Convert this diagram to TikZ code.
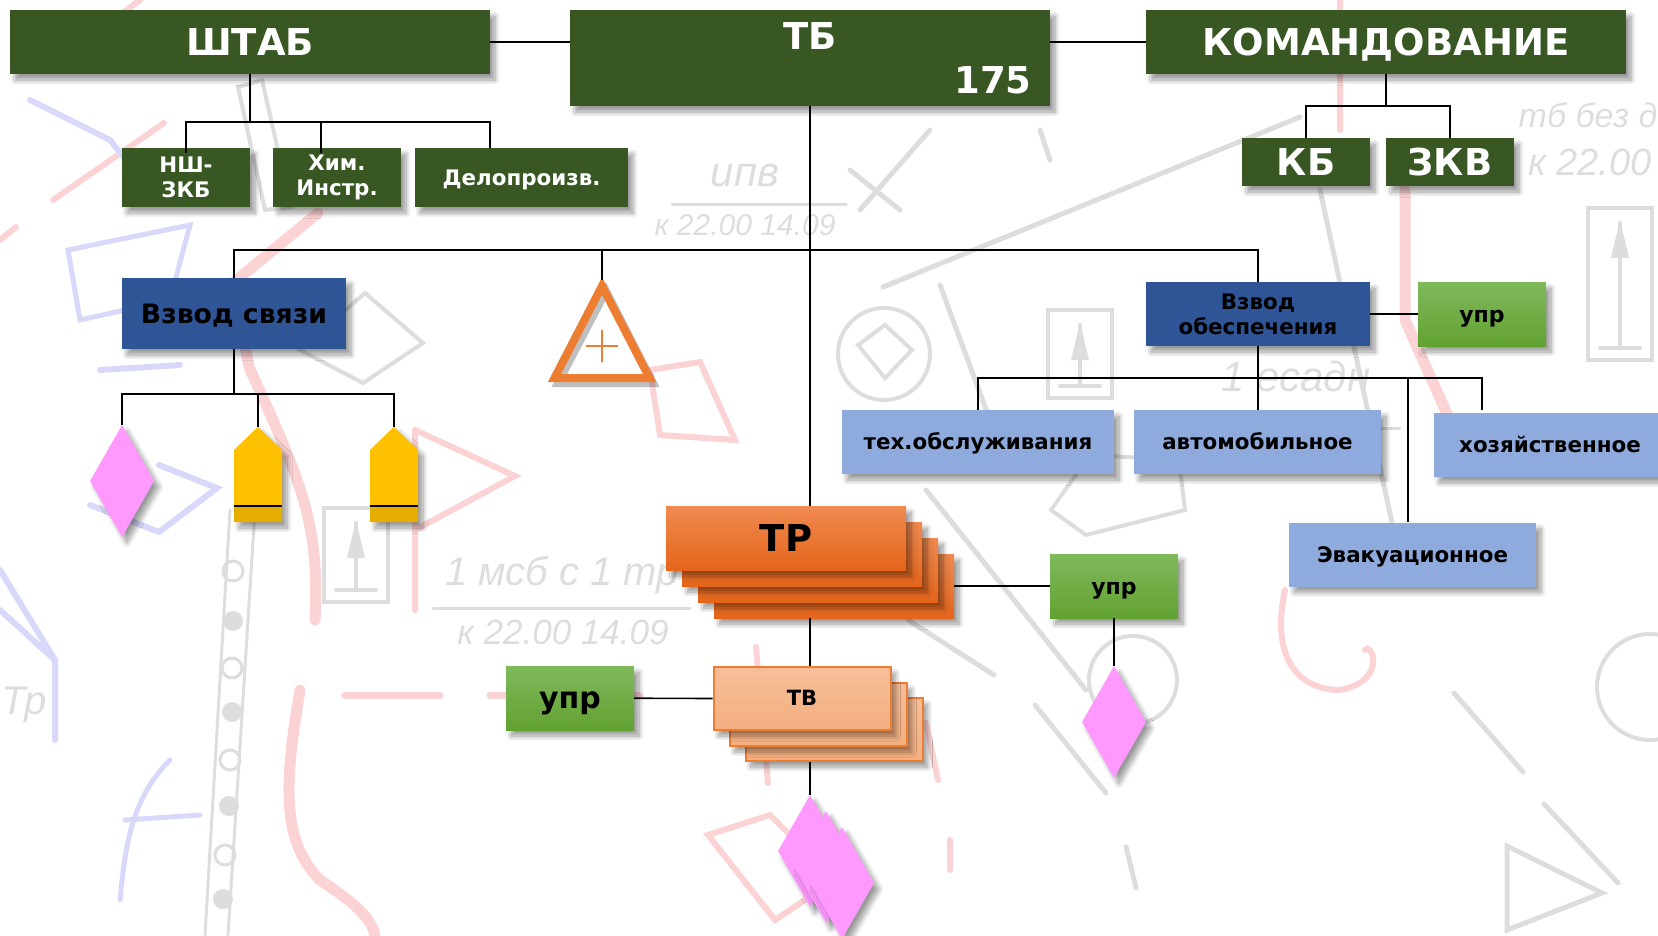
\documentclass[tikz,border=0pt]{standalone}
\usepackage{fontspec}
\setmainfont{DejaVu Sans}
\newfontfamily\mapfont{Liberation Sans}
\usetikzlibrary{calc,shapes.geometric,shapes.symbols,shadows.blur}
\definecolor{staffgreen}{HTML}{385723}
\definecolor{platoonblue}{HTML}{2F5597}
\definecolor{servblue}{HTML}{8FAADC}
\definecolor{ctrltop}{HTML}{80B85C}
\definecolor{ctrlmid}{HTML}{70AF42}
\definecolor{ctrlbot}{HTML}{62A232}
\definecolor{trtop}{HTML}{F08A50}
\definecolor{trmid}{HTML}{F47A26}
\definecolor{trbot}{HTML}{E4651A}
\definecolor{tankorange}{HTML}{ED7D31}
\definecolor{markpink}{HTML}{FF99FF}
\definecolor{markyellow}{HTML}{FFC000}
\definecolor{mapgrey}{HTML}{DDDDDD}
\definecolor{mapred}{HTML}{FCD3D5}
\definecolor{mapblue}{HTML}{D8D8FA}
\tikzset{
	softshadow/.style={blur shadow={shadow xshift=5pt, shadow yshift=-6pt, shadow blur steps=10, shadow blur radius=5pt, shadow opacity=40}},
	size/.style 2 args={minimum width=#1, minimum height=#2, inner sep=0pt, align=center},
	txt/.style={font=\bfseries\fontsize{#1}{#1}\selectfont, text height=0.73*#1 pt, text depth=0pt},
	staff/.style={fill=staffgreen, text=white, softshadow},
	platoon/.style={fill=platoonblue, text=black, softshadow},
	serv/.style={fill=servblue, text=black, size={#1}{64}, txt=21.4, softshadow},
	ctrl/.style={top color=ctrltop, middle color=ctrlmid, bottom color=ctrlbot, text=black, size={128}{64}, txt=#1, softshadow},
	tr/.style={top color=trtop, middle color=trmid, bottom color=trbot, size={240}{64}, softshadow},
	tv/.style={top color=tankorange!50!white, bottom color=tankorange!62!white, draw=tankorange, line width=2pt, size={177}{63}, softshadow},
	rhomb/.style={shape=diamond, fill=markpink, size={64}{112}, softshadow},
	bar/.style={line width=1.6pt, black},
	mapline/.style={line width=#1, mapgrey, line cap=round},
	mapredline/.style={line width=#1, mapred, line cap=round},
	mapblueline/.style={line width=#1, mapblue, line cap=round},
}
\begin{document}
\begin{tikzpicture}[x=1pt, y=-1pt]
\useasboundingbox (0,0) rectangle (1658,935);

% Map underneath
\foreach \t/\x/\y/\s in {ипв/745/176/42, к 22.00 14.09/745/225/30, 1 мсб с 1 тр/562/575/40, к 22.00 14.09/563/632/35, 1 есадн/1296/376/42, тб без д/1588/115/34, к 22.00/1590/162/38, Тр/24/705/40}
	\node[text=mapgrey, font=\mapfont\itshape\fontsize{\s}{\s}\selectfont] (map\x) at (\x,\y) {\t};
\draw[mapline=3pt] (433,608) -- (690,608) (672,204) -- (846,204) (1232,428) -- (1400,428);
\draw[mapline=5pt] (883,287) -- (1300,117) (940,285) -- (990,420) (1040,130) -- (1050,160) (1320,190) -- (1400,560);
\draw[mapline=4pt] (884,354) circle (46) (858,345) -- (885,325) -- (912,350) -- (885,378) -- cycle;
\draw[mapline=4pt] (1133,680) circle (44) (1650,687) circle (53);
\foreach \x/\y/\h in {1080/310/88, 1620/208/152, 356/508/94} {
	\draw[mapline=4pt] (\x-32,\y) rectangle (\x+32,\y+\h) (\x,\y+15) -- (\x,\y+\h-12) (\x-20,\y+\h-12) -- (\x+20,\y+\h-12);
	\fill[mapgrey] (\x,\y+12) -- (\x+9,\y+50) -- (\x-9,\y+50) -- cycle;
}
\draw[mapline=5pt] (926,490) -- (1086,690) (908,620) -- (994,675) (1035,705) -- (1106,793) (1126,847) -- (1136,888) (1454,693) -- (1523,772) (1544,804) -- (1618,883);
\draw[mapline=5pt] (1507,846) -- (1602,893) -- (1507,930) -- cycle (900,210) -- (850,170) (930,130) -- (860,210);
\draw[mapline=4pt] (1051,510) -- (1086,535) -- (1185,510) -- (1179,460) -- (1090,455) -- cycle (365,293) -- (423,343) -- (363,383) -- (300,350) -- cycle (238,87) -- (262,80) -- (291,207) -- (265,210) -- cycle;
\draw[mapline=3pt] (230,510) -- (205,935) (255,510) -- (228,935);
\foreach \x/\y in {233/571, 232/668, 230/760, 225/855}
	\draw[mapline=3pt] (\x,\y) circle (10);
\foreach \x/\y in {233/621, 232/712, 229/806, 223/899}
	\fill[mapgrey] (\x,\y) circle (10);
\draw[mapredline=11pt] (318,213) -- (233,283) -- (249,367) .. controls (300,480) and (320,520) .. (315,620);
\draw[mapredline=11pt] (300,690) .. controls (285,780) and (280,840) .. (320,880) .. controls (350,900) and (370,915) .. (375,935);
\draw[mapredline=7pt] (640,695) -- (590,695) (550,695) -- (490,695) (345,695) -- (440,695);
\draw[mapredline=6pt] (415,430) -- (515,476) -- (415,530) (415,430) -- (415,610);
\draw[mapredline=6pt] (650,370) -- (700,362) -- (735,440) -- (660,435) -- cycle (708,835) -- (770,815) -- (835,880) -- (775,920) -- cycle;
\draw[mapredline=11pt] (1405,190) -- (1405,320) -- (1470,465);
\draw[mapredline=6pt] (1340,0) -- (1340,130) (1285,590) .. controls (1270,660) and (1300,690) .. (1340,690) .. controls (1390,680) and (1370,640) .. (1365,650);
\draw[mapredline=6pt] (53,200) -- (164,123) (0,240) -- (16,227) (100,30) -- (140,0) (950,840) -- (950,870) (756,647) -- (768,783) (926,723) -- (938,780);
\draw[mapblueline=6pt] (30,100) -- (110,140) -- (150,190) (100,370) -- (180,365) (159,465) -- (217,488) -- (159,532) -- (90,505);
\draw[mapblueline=5pt] (68,250) -- (190,225) -- (170,300) -- (80,320) -- cycle;
\draw[mapblueline=6pt] (0,570) -- (55,660) -- (55,740) (0,610) -- (55,660);
\draw[mapblueline=5pt] (170,760) .. controls (130,800) and (125,850) .. (120,900) (125,820) -- (200,815);

% Staff row
\node[staff, size={480}{64}, txt=37] (shtab) at (250,42) {ШТАБ};
\node[staff, size={480}{96}] (tb) at (810,58) {};
\node[text=white, txt=37] (tbname) at (810,36) {ТБ};
\node[text=white, txt=37] (tbnum) at (993,80) {175};
\node[staff, size={480}{64}, txt=37] (kom) at (1386,42) {КОМАНДОВАНИЕ};

% Staff officers
\node[staff, size={128}{59}, font=\bfseries\fontsize{21.4}{25}\selectfont] (nsh) at (186,177.5) {\vspace*{4pt}НШ-\\ЗКБ};
\node[staff, size={128}{59}, font=\bfseries\fontsize{21.4}{25}\selectfont] (him) at (337,177.5) {\vspace*{4pt}Хим.\\Инстр.};
\node[staff, size={213}{59}, txt=21.4] (delo) at (521.5,177.5) {Делопроизв.};
\node[staff, size={128}{48}, txt=37] (kb) at (1306,162) {КБ};
\node[staff, size={128}{48}, txt=37] (zkv) at (1450,162) {ЗКВ};

% Platoons
\node[platoon, size={224}{71}, txt=26.7] (svyaz) at (234,313.5) {Взвод связи};
\node[platoon, size={224}{64}, font=\bfseries\fontsize{21.4}{25}\selectfont] (obesp) at (1258,314) {Взвод\\обеспечения};
\node[ctrl=22] (obespupr) at (1482,314) {упр};

% Service branches
\node[serv=272] (tech) at (978,442) {тех.обслуживания};
\node[serv=247] (auto) at (1257.5,442) {автомобильное};
\node[serv=232] (hoz) at (1550,445) {хозяйственное};
\node[serv=247] (evak) at (1412.5,554.5) {Эвакуационное};

% Signal platoon marks
\node[rhomb] (svyazmark) at (122,481) {};
\foreach \n/\x in {sigA/258, sigB/394} {
	\node[shape=signal, signal to=north, signal pointer angle=92, fill=markyellow, size={48}{72}, softshadow] (\n) at (\x,486) {};
	\fill[markyellow!90!black] (\x-24,506) rectangle (\x+24,522);
	\draw[bar] (\x-24,506) -- (\x+24,506);
}

% Triangle mark
\coordinate (triapex) at (602,280);
\draw[line width=8pt, black, opacity=0.25] (606,291) -- (653,383) -- (558,383) -- cycle;
\draw[line width=8pt, tankorange] (602,286) -- (649.5,378) -- (554.5,378) -- cycle;
\draw[line width=1.6pt, tankorange] (586,346) -- (618,346) (602,330) -- (602,362);

% Tank company stack
\foreach \i/\x/\y in {4/834/586, 3/818/570, 2/802/554, 1/786/538}
	\node[tr] (tr\i) at (\x,\y) {};
\node[txt=37] (trname) at (786,538) {ТР};
\node[ctrl=22] (trupr) at (1114,586) {упр};
\node[rhomb] (trmark) at (1114,722) {};

% Tank platoon stack
\foreach \i/\x/\y in {3/834/729.5, 2/818/714.5, 1/802/698.5}
	\node[tv] (tv\i) at (\x,\y) {};
\node[txt=21] (tvname) at (802,698) {ТВ};
\node[ctrl=30] (tvupr) at (570,698) {упр};
\foreach \i/\x/\y in {1/810/851, 2/826/867, 3/842/883}
	\node[rhomb] (tvmark\i) at (\x,\y) {};

% Connections of the top row
\draw[bar] (shtab) -- (shtab -| tb.west);
\draw[bar] (tb.east |- kom) -- (kom);
\coordinate (shtabbus) at (250,122);
\coordinate (komsbus) at (1386,106);
\coordinate (himtop) at (321,153);
\draw[bar] (shtab.south) -- (shtabbus);
\draw[bar] (shtabbus) -| (186,153);
\draw[bar] (shtabbus) -| (himtop);
\draw[bar] (shtabbus) -| (490,148);
\draw[bar] (kom.south) -- (komsbus);
\draw[bar] (komsbus) -| (kb.north);
\draw[bar] (komsbus) -| (zkv.north);

% Connections of the main line
\coordinate (mainbus) at (810,250);
\draw[bar] (tb.south) -- (tb.south |- tr1.north);
\draw[bar] (mainbus) -| (svyaz.north);
\draw[bar] (mainbus) -| (obesp.north);
\draw[bar] (mainbus -| triapex) -- (triapex);
\draw[bar] (tb.south |- tr4.south) -- (tb.south |- tv1.north);
\draw[bar] (tb.south |- tv3.south) -- (tvmark1.north);
\draw[bar] (tr4) -- (trupr);
\draw[bar] (trupr) -- (trmark.north);
\draw[bar] (tvupr) -- (tv1.west);

% Connections of the signal platoon
\coordinate (svyazbus) at (234,394);
\draw[bar] (svyaz.south) -- (svyazbus);
\draw[bar] (svyazbus) -| (svyazmark.north);
\draw[bar] (svyazbus) -| (sigA.north);
\draw[bar] (svyazbus) -| (sigB.north);

% Connections of the support platoon
\coordinate (obespbus) at (1258,378);
\draw[bar] (obesp) -- (obespupr);
\draw[bar] (obesp.south) -- (obespbus);
\draw[bar] (obespbus) -| (tech.north);
\draw[bar] (obespbus) -- (obespbus |- auto.north);
\draw[bar] (obespbus) -| (1482,410);
\draw[bar] (1408,378) -- (1408,522);
\end{tikzpicture}
\end{document}
